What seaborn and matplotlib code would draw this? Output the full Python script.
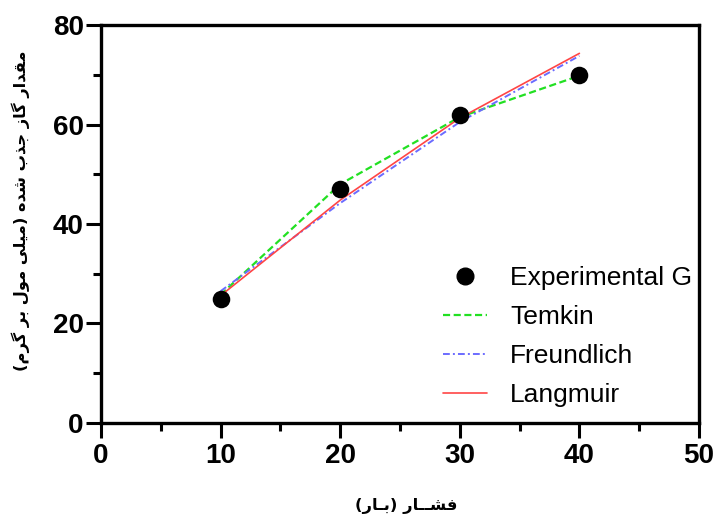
import matplotlib
matplotlib.use("Agg")
import matplotlib.pyplot as plt
from matplotlib.lines import Line2D
from matplotlib.ticker import MultipleLocator
import seaborn as sns
import pandas as pd

# ---------------- data ----------------
pressure = [10, 20, 30, 40]
experimental = [25.0, 47.0, 62.0, 70.0]
temkin = [25.8, 48.0, 61.5, 69.8]
freundlich = [26.5, 44.2, 60.5, 73.8]
langmuir = [25.6, 44.8, 61.3, 74.3]

series_names = ["Experimental G", "Temkin", "Freundlich", "Langmuir"]
xticks = [0, 10, 20, 30, 40, 50]
yticks = [0, 20, 40, 60, 80]

xlabel_fa = "فشــار (بـار)"
ylabel_fa = "مقدار گاز جذب شده (میلی مول بر گرم)"

# -------- simple Persian shaping (matplotlib has no bidi/shaping) --------
DUAL = set("بپتثجچحخسشصضطظعغفقکگلمنهی")
RIGHT = set("اآدذرزژو")
TATWEEL = "\u0640"
FORMS = {
    "ا": ("\uFE8D", "\uFE8E", None, None),
    "ب": ("\uFE8F", "\uFE90", "\uFE91", "\uFE92"),
    "ج": ("\uFE9D", "\uFE9E", "\uFE9F", "\uFEA0"),
    "د": ("\uFEA9", "\uFEAA", None, None),
    "ذ": ("\uFEAB", "\uFEAC", None, None),
    "ر": ("\uFEAD", "\uFEAE", None, None),
    "ز": ("\uFEAF", "\uFEB0", None, None),
    "ش": ("\uFEB5", "\uFEB6", "\uFEB7", "\uFEB8"),
    "ف": ("\uFED1", "\uFED2", "\uFED3", "\uFED4"),
    "ق": ("\uFED5", "\uFED6", "\uFED7", "\uFED8"),
    "ل": ("\uFEDD", "\uFEDE", "\uFEDF", "\uFEE0"),
    "م": ("\uFEE1", "\uFEE2", "\uFEE3", "\uFEE4"),
    "ه": ("\uFEE9", "\uFEEA", "\uFEEB", "\uFEEC"),
    "و": ("\uFEED", "\uFEEE", None, None),
    "ی": ("\uFBFC", "\uFBFD", "\uFBFE", "\uFBFF"),
    "گ": ("\uFB92", "\uFB93", "\uFB94", "\uFB95"),
}


def shape_fa(s):
    s = s.replace("\u064A", "\u06CC").replace("\u0643", "\u06A9")
    chars = list(s)
    out = []

    def joins_next(c):
        return c in DUAL or c == TATWEEL

    def joinable(c):
        return c in DUAL or c in RIGHT or c == TATWEEL

    for i, c in enumerate(chars):
        if c not in FORMS:
            out.append(c)
            continue
        prev = chars[i - 1] if i > 0 else None
        nxt = chars[i + 1] if i + 1 < len(chars) else None
        cp = prev is not None and joins_next(prev)
        cn = (c in DUAL) and nxt is not None and joinable(nxt)
        iso, fin, ini, med = FORMS[c]
        if cp and cn:
            out.append(med)
        elif cp:
            out.append(fin)
        elif cn:
            out.append(ini)
        else:
            out.append(iso)
    mirror = {"(": ")", ")": "("}
    return "".join(mirror.get(c, c) for c in reversed(out))


# ---------------- style ----------------
sns.set_style("ticks")
plt.rcParams["font.family"] = ["Liberation Sans", "DejaVu Sans"]
plt.rcParams["text.color"] = "black"
plt.rcParams["xtick.color"] = "black"
plt.rcParams["ytick.color"] = "black"
plt.rcParams["axes.labelcolor"] = "black"

fig = plt.figure(figsize=(7.15, 5.2), dpi=100)
ax = fig.add_axes([0.14126, 0.18654, 0.83636, 0.76538])

df = pd.DataFrame({
    "pressure": pressure,
    "experimental": experimental,
    "temkin": temkin,
    "freundlich": freundlich,
    "langmuir": langmuir,
})

green = "#22e022"
blue = "#6b6bff"
red = "#ff4545"

sns.lineplot(data=df, x="pressure", y="temkin", ax=ax, color=green,
             lw=1.6, estimator=None, zorder=2)
ax.lines[-1].set_dashes((3.2, 1.6))
sns.lineplot(data=df, x="pressure", y="freundlich", ax=ax, color=blue,
             lw=1.4, estimator=None, zorder=2)
ax.lines[-1].set_dashes((3.5, 1.6, 1.0, 1.6))
sns.lineplot(data=df, x="pressure", y="langmuir", ax=ax, color=red,
             lw=1.2, estimator=None, zorder=3)
sns.scatterplot(data=df, x="pressure", y="experimental", ax=ax, color="black",
                s=160, edgecolor="black", linewidth=0, zorder=4)

ax.set_xlim(0, 50)
ax.set_ylim(0, 80)
ax.set_xticks(xticks)
ax.set_yticks(yticks)
ax.xaxis.set_minor_locator(MultipleLocator(5))
ax.yaxis.set_minor_locator(MultipleLocator(10))

for sp in ax.spines.values():
    sp.set_visible(True)
    sp.set_linewidth(2.4)
    sp.set_color("black")

ax.tick_params(axis="both", which="major", length=10.5, width=2.2,
               direction="out", color="black", labelcolor="black",
               top=False, right=False)
ax.tick_params(axis="both", which="minor", length=5.5, width=2.2,
               direction="out", color="black", top=False, right=False)
ax.tick_params(axis="x", which="major", pad=4)
ax.tick_params(axis="y", which="major", pad=2)
for lab in ax.get_xticklabels() + ax.get_yticklabels():
    lab.set_fontsize(20)
    lab.set_fontweight("bold")
    lab.set_fontfamily(["Liberation Sans", "DejaVu Sans"])

ax.set_xlabel(shape_fa(xlabel_fa), fontsize=11.8, fontweight="bold",
              family=["DejaVu Sans"], va="center", color="black")
ax.xaxis.set_label_coords(0.51, -0.209)
ax.set_ylabel(shape_fa(ylabel_fa), fontsize=11.7, fontweight="bold",
              family=["DejaVu Sans"], va="center", color="black")
ax.yaxis.set_label_coords(-0.135, 0.533)

handles = [
    Line2D([], [], ls="none", marker="o", color="black", markersize=12),
    Line2D([], [], color=green, lw=1.6, dashes=(3.2, 1.6)),
    Line2D([], [], color=blue, lw=1.4, dashes=(3.5, 1.6, 1.0, 1.6)),
    Line2D([], [], color=red, lw=1.2),
]
leg = ax.legend(handles, series_names, loc="upper left",
                bbox_to_anchor=(0.572, 0.395), frameon=False, borderpad=0,
                borderaxespad=0, handlelength=1.67,
                handletextpad=0.87, labelspacing=0.57,
                prop={"family": ["Liberation Sans", "DejaVu Sans"], "size": 19})
for t in leg.get_texts():
    t.set_color("black")

fig.savefig("out.png", dpi=100, facecolor="white")
